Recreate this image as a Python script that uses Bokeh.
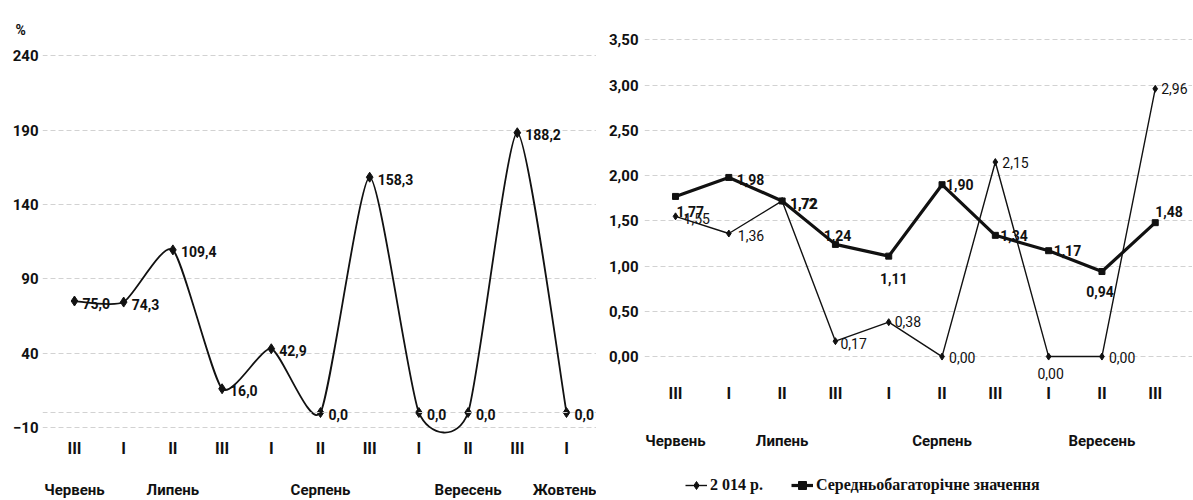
from jinja2 import Template
from bokeh.plotting import figure
from bokeh.models import (Range1d, FixedTicker, LinearAxis, Legend, LegendItem,
                          LabelSet, ColumnDataSource, Span)
from bokeh.core.properties import value
from bokeh.embed import file_html
from bokeh.resources import INLINE

# ---------------- data ----------------
left_decades = ["III", "I", "II", "III", "I", "II", "III", "I", "II", "III", "I"]
left_months = ["Червень", "Липень", "Липень", "Липень", "Серпень", "Серпень", "Серпень",
               "Вересень", "Вересень", "Вересень", "Жовтень"]
left_values = [75.0, 74.3, 109.4, 16.0, 42.9, 0.0, 158.3, 0.0, 0.0, 188.2, 0.0]
left_yticks = [-10, 40, 90, 140, 190, 240]
left_unit = "%"

right_decades = ["III", "I", "II", "III", "I", "II", "III", "I", "II", "III"]
right_months = ["Червень", "Липень", "Липень", "Липень", "Серпень", "Серпень", "Серпень",
                "Вересень", "Вересень", "Вересень"]
series_2014 = [1.55, 1.36, 1.72, 0.17, 0.38, 0.00, 2.15, 0.00, 0.00, 2.96]
series_avg = [1.77, 1.98, 1.72, 1.24, 1.11, 1.90, 1.34, 1.17, 0.94, 1.48]
right_yticks = [0.0, 0.5, 1.0, 1.5, 2.0, 2.5, 3.0, 3.5]
legend_labels = ["2 014 р.", "Середньобагаторічне значення"]

# label placement (style only): (align, x_offset, y_offset)
avg_label_pos = [("left", 1, -15), ("left", 8, -2), ("left", 8, -3), ("center", 2, 9),
                 ("center", 5, -22), ("left", 4, 0), ("left", 5, 0), ("left", 5, 0),
                 ("center", -2, -20), ("left", 0, 11)]
s14_label_pos = [("left", 8, -2), ("left", 9, -2), ("left", 8, -3), ("left", 5, -2),
                 ("left", 6, 1), ("left", 7, -1), ("left", 7, 0), ("center", 2, -17),
                 ("left", 7, -1), ("left", 6, 0)]

FONT = "Roboto"
SERIF = "Liberation Serif"
INK = "#111111"
GRID = "#d2d2d2"


def month_ticks(months):
    order, groups = [], {}
    for i, m in enumerate(months):
        if m not in groups:
            groups[m] = []
            order.append(m)
        groups[m].append(i)
    ticks, labels = [], {}
    for m in order:
        idx = groups[m]
        t = idx[len(idx) // 2]
        ticks.append(t)
        labels[t] = m
    return ticks, labels


def smooth(xs, ys, k=0.62):
    n = len(xs)
    P = list(zip(xs, ys))
    d = dict(x0=[], y0=[], x1=[], y1=[], cx0=[], cy0=[], cx1=[], cy1=[])
    for i in range(n - 1):
        p0 = P[i - 1] if i > 0 else P[i]
        p1, p2 = P[i], P[i + 1]
        p3 = P[i + 2] if i + 2 < n else P[i + 1]
        d["x0"].append(p1[0]); d["y0"].append(p1[1])
        d["x1"].append(p2[0]); d["y1"].append(p2[1])
        d["cx0"].append(p1[0] + k * (p2[0] - p0[0]) / 6)
        d["cy0"].append(p1[1] + k * (p2[1] - p0[1]) / 6)
        d["cx1"].append(p2[0] - k * (p3[0] - p1[0]) / 6)
        d["cy1"].append(p2[1] - k * (p3[1] - p1[1]) / 6)
    return d


def base_fig(width, height, xr, yr, bl, br, bt, bb):
    p = figure(width=width, height=height, x_range=xr, y_range=yr,
               output_backend="svg", toolbar_location=None, tools="",
               min_border_left=bl, min_border_right=br,
               min_border_top=bt, min_border_bottom=bb)
    p.outline_line_color = None
    p.background_fill_color = "white"
    p.border_fill_color = "white"
    p.xgrid.visible = False
    return p


def style_axis(ax, size, standoff):
    ax.major_label_text_font = FONT
    ax.major_label_text_font_style = "bold"
    ax.major_label_text_font_size = f"{size}px"
    ax.major_label_text_color = INK
    ax.major_tick_line_color = None
    ax.minor_tick_line_color = None
    ax.major_tick_out = 0
    ax.major_tick_in = 0
    ax.major_label_standoff = standoff
    ax.axis_line_color = None


def style_grid(g):
    g.grid_line_color = GRID
    g.grid_line_dash = "5 3"
    g.grid_line_width = 1


def add_x_axes(p, decades, months, base_y, s1, s2):
    n = len(decades)
    ax = p.xaxis[0]
    ax.ticker = FixedTicker(ticks=list(range(n)))
    ax.major_label_overrides = {i: d for i, d in enumerate(decades)}
    ax.fixed_location = base_y
    style_axis(ax, 16, s1)
    mt, ml = month_ticks(months)
    max_ = LinearAxis(ticker=FixedTicker(ticks=mt), major_label_overrides=ml,
                      fixed_location=base_y)
    style_axis(max_, 15, s2)
    p.add_layout(max_, "below")


# ---------------- left chart ----------------
xl = list(range(len(left_values)))
pl = base_fig(596, 499, Range1d(-0.650, 10.610), Range1d(-58.5, 241.5), 42, 0, 53, 0)
ytl = FixedTicker(ticks=left_yticks)
pl.yaxis.ticker = ytl
pl.ygrid.ticker = ytl
style_axis(pl.yaxis[0], 15, 4)
style_grid(pl.ygrid[0])
add_x_axes(pl, left_decades, left_months, -15, 4, 46)
pl.add_layout(Span(location=0, dimension="width", line_color=GRID, line_dash="5 3", line_width=1))

pl.title.text = left_unit
pl.title.align = "left"
pl.title.offset = -27
pl.title.standoff = 31
pl.title.text_font = FONT
pl.title.text_font_style = "bold"
pl.title.text_font_size = "14px"
pl.title.text_color = INK

pl.bezier(source=ColumnDataSource(smooth(xl, left_values)), x0="x0", y0="y0", x1="x1", y1="y1",
          cx0="cx0", cy0="cy0", cx1="cx1", cy1="cy1", line_color=INK, line_width=1.8)
pl.scatter(xl, left_values, marker="diamond", size=10, color=INK)
lsrc = ColumnDataSource(dict(x=xl, y=left_values,
                             t=[f"{v:.1f}".replace(".", ",") for v in left_values]))
pl.add_layout(LabelSet(source=lsrc, x="x", y="y", text="t", x_offset=8, y_offset=-2,
                       text_baseline="middle", text_align="left", text_font=value(FONT),
                       text_font_style="bold", text_font_size="14px", text_color=INK))

# ---------------- right chart ----------------
xr = list(range(len(series_avg)))
pr = base_fig(596, 499, Range1d(-0.582, 9.699), Range1d(-1.58, 3.56), 48, 0, 34, 0)
ytr = FixedTicker(ticks=right_yticks)
pr.yaxis.ticker = ytr
pr.ygrid.ticker = ytr
pr.yaxis.major_label_overrides = {v: f"{v:.2f}".replace(".", ",") for v in right_yticks}
style_axis(pr.yaxis[0], 15, 6)
style_grid(pr.ygrid[0])
add_x_axes(pr, right_decades, right_months, -0.276, 2, 50)

l14 = pr.line(xr, series_2014, line_color=INK, line_width=1.4)
m14 = pr.scatter(xr, series_2014, marker="diamond", size=7, color=INK)
lav = pr.line(xr, series_avg, line_color=INK, line_width=3.2)
mav = pr.scatter(xr, series_avg, marker="square", size=6, color=INK)


def label_src(xs, ys, pos):
    return ColumnDataSource(dict(
        x=xs, y=ys, t=[f"{v:.2f}".replace(".", ",") for v in ys],
        al=[p[0] for p in pos], xo=[p[1] for p in pos], yo=[p[2] for p in pos]))


pr.add_layout(LabelSet(source=label_src(xr, series_2014, s14_label_pos), x="x", y="y", text="t",
                       x_offset="xo", y_offset="yo", text_align="al", text_baseline="middle",
                       text_font=value(FONT), text_font_size="14px", text_color=INK))
pr.add_layout(LabelSet(source=label_src(xr, series_avg, avg_label_pos), x="x", y="y", text="t",
                       x_offset="xo", y_offset="yo", text_align="al", text_baseline="middle",
                       text_font=value(FONT), text_font_style="bold", text_font_size="14px",
                       text_color=INK))

legend = Legend(items=[LegendItem(label=legend_labels[0], renderers=[l14, m14]),
                       LegendItem(label=legend_labels[1], renderers=[lav, mav])],
                location=(41, 4), orientation="horizontal",
                padding=0, margin=0, spacing=28, label_standoff=3,
                glyph_width=22, glyph_height=20, label_height=20,
                border_line_color=None, background_fill_alpha=0,
                label_text_font=SERIF, label_text_font_style="bold",
                label_text_font_size="16px", label_text_color=INK)
pr.add_layout(legend)

TEMPLATE = Template("""{% extends base %}
{% from macros import embed %}
{% block contents %}
<div style="display:flex;flex-direction:row;align-items:flex-start;">
{% for doc in docs %}{% for root in doc.roots %}<div>{{ embed(root) }}</div>{% endfor %}{% endfor %}
</div>
{% endblock %}""")

open("out.html", "w").write(file_html([pl, pr], INLINE, template=TEMPLATE))
